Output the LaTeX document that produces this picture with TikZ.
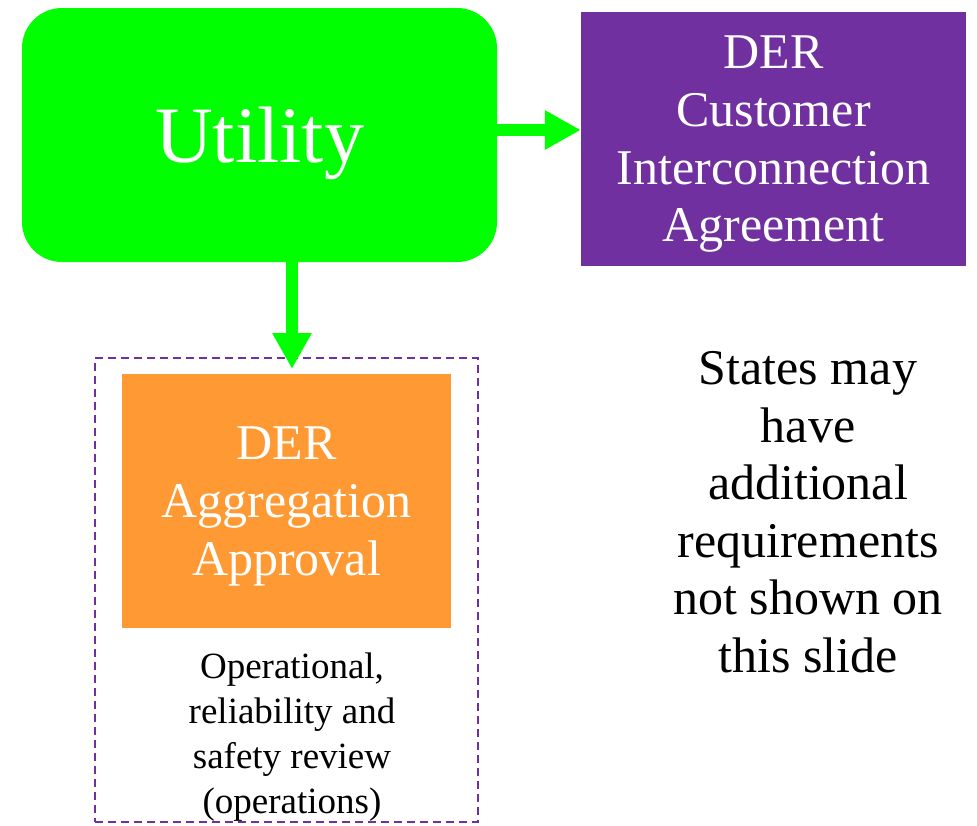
\documentclass[tikz,border=0pt]{standalone}
\usepackage{fontspec}
\setmainfont{Liberation Serif}
\usetikzlibrary{arrows.meta}
\definecolor{utilgreen}{HTML}{00FF00}
\definecolor{derpurple}{HTML}{7030A0}
\definecolor{derorange}{HTML}{FF9933}
\begin{document}
\begin{tikzpicture}[x=1pt,y=-1pt,
   box/.style={inner sep=0pt,align=center,text=white,text depth=0pt},
   big/.style={font=\fontsize{50}{57.7}\selectfont},
   flow/.style={utilgreen,line width=12pt,-{Triangle[length=36pt,width=37pt]}}]
   \useasboundingbox (0,0) rectangle (977,825);
   \node (utility) [box,fill=utilgreen,rounded corners=40pt,minimum width=475pt,minimum height=254pt,font=\fontsize{80}{90}\selectfont] at (259.5,135) {Utility};
   \node (agreement) [box,big,fill=derpurple,minimum width=385pt,minimum height=254pt] at (773.5,139) {DER\\Customer\\Interconnection\\Agreement};
   \node (opsframe) [draw=derpurple,line width=2pt,dash pattern=on 8pt off 5pt,minimum width=383pt,minimum height=464pt] at (286.5,590) {};
   \node (approval) [box,big,fill=derorange,minimum width=329pt,minimum height=254pt] at (286.5,501) {DER\\Aggregation\\Approval};
   \node (review) [align=center,text depth=0pt,font=\fontsize{37}{45}\selectfont] at (292,733) {Operational,\\reliability and\\safety review\\(operations)};
   \node (states) [align=center,text depth=0pt,font=\fontsize{50}{57.5}\selectfont] at (808,512) {States may\\have\\additional\\requirements\\not shown on\\this slide};
   \coordinate (drop) at (292,369);
   \draw [flow] ([yshift=5pt]utility.east) -- ([yshift=5pt]utility.east -| agreement.west);
   \draw [flow] (utility.south -| drop) -- (drop);
\end{tikzpicture}
\end{document}
